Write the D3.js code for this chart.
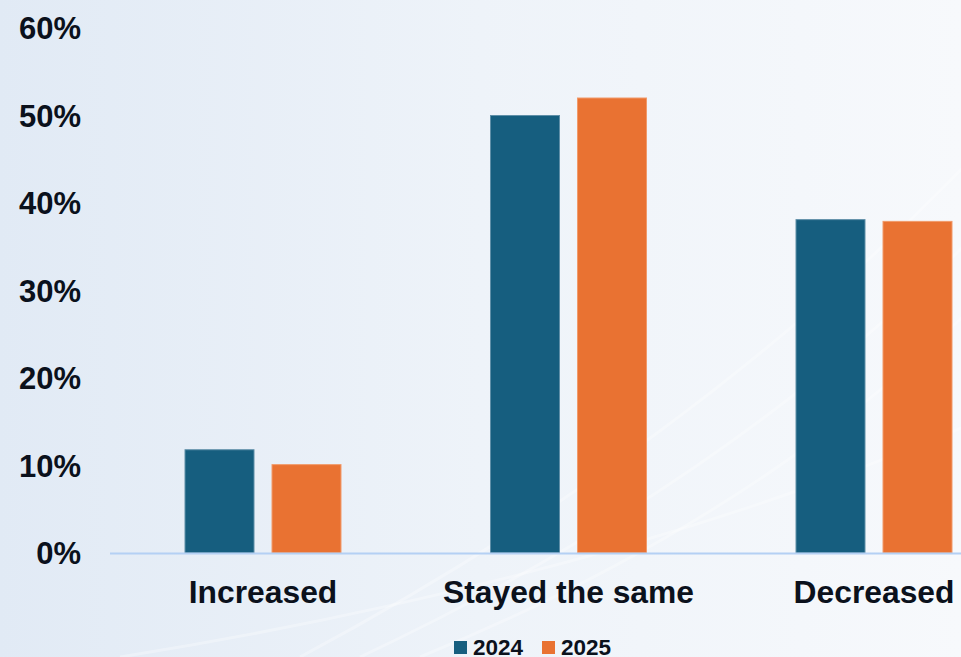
<!DOCTYPE html>
<html><head><meta charset="utf-8">
<script src="https://cdn.jsdelivr.net/npm/d3@7"></script>
<style>html,body{margin:0;padding:0;overflow:hidden;background:#eef3f9}</style>
</head><body><svg id="c" width="961" height="657"></svg>
<script>
const categories = ["Increased", "Stayed the same", "Decreased"];
const seriesNames = ["2024", "2025"];
const values2024 = [11.8, 50.0, 38.1];
const values2025 = [10.1, 52.0, 37.9];
const yTicks = [0, 10, 20, 30, 40, 50, 60];
const colors = ["#165e7f", "#e97232"];

const svg = d3.select("#c");
const W = 961, H = 657;
const defs = svg.append("defs");
const g = defs.append("linearGradient").attr("id","bg").attr("x1","0").attr("x2","1").attr("y1","0").attr("y2","0");
g.append("stop").attr("offset","0").attr("stop-color","#e1eaf5");
g.append("stop").attr("offset","0.5").attr("stop-color","#eef3f9");
g.append("stop").attr("offset","1").attr("stop-color","#f7f9fc");
svg.append("rect").attr("width",W).attr("height",H).attr("fill","url(#bg)");
// faint decorative swooshes
const sw = svg.append("g").attr("fill","none").attr("stroke","#ffffff").attr("stroke-opacity",0.3);
[[300,657,980,150],[360,657,980,230],[420,657,980,300],[120,657,980,420]].forEach(([x0,y0,x1,y1],i)=>{
  sw.append("path").attr("stroke-width",3).attr("d",`M${x0},${y0} Q${(x0+x1)/2+60},${(y0+y1)/2+40} ${x1},${y1}`);
});

const x0 = d3.scaleBand().domain(categories).range([110.25, 1026.75]).paddingInner(0).paddingOuter(0);
const groupW = 156;
const x1 = d3.scaleBand().domain(seriesNames).range([0, groupW]).paddingInner(18/87).paddingOuter(0);
const y = d3.scaleLinear().domain([0, 60]).range([553, 28]);

// axis labels
const yAxis = d3.axisLeft(y).tickValues(yTicks).tickFormat(d => d + "%").tickSize(0).tickPadding(0);
const ya = svg.append("g").attr("transform","translate(81,0)").call(yAxis);
ya.select(".domain").remove();
ya.selectAll("text").attr("font-family","'Liberation Sans', Arial, sans-serif").attr("font-weight","bold")
  .attr("font-size","31px").attr("fill","#0b111c").attr("dy","0.35em");

// bars
const data = categories.map((c,i)=>({cat:c, vals:[values2024[i], values2025[i]]}));
const grp = svg.append("g").selectAll("g").data(data).join("g")
  .attr("transform", d => `translate(${x0(d.cat) + x0.bandwidth()/2 - groupW/2},0)`);
grp.selectAll("rect").data(d => d.vals.map((v,j)=>({s:seriesNames[j], v, j}))).join("rect")
  .attr("x", d => x1(d.s)).attr("width", x1.bandwidth())
  .attr("y", d => y(d.v)).attr("height", d => y(0) - y(d.v))
  .attr("fill", d => colors[d.j])
  .attr("stroke", d => d.j===0 ? "#5f8fa8" : "#f19a6a").attr("stroke-width",1);

// x axis line
svg.append("line").attr("x1",110).attr("x2",W).attr("y1",553.5).attr("y2",553.5)
  .attr("stroke","#b4d0f4").attr("stroke-width",2);

// x labels
const xAxis = d3.axisBottom(x0).tickSize(0).tickPadding(0);
const xa = svg.append("g").attr("transform","translate(0,592)").call(xAxis);
xa.select(".domain").remove();
xa.selectAll("text").attr("font-family","'Liberation Sans', Arial, sans-serif").attr("font-weight","bold")
  .attr("font-size","31.8px").attr("fill","#0b111c").attr("dy","0.35em");

// legend
const leg = svg.append("g").attr("font-family","'Liberation Sans', Arial, sans-serif");
const legX = [454, 542];
seriesNames.forEach((s,i)=>{
  leg.append("rect").attr("x",legX[i]).attr("y",641).attr("width",13).attr("height",13).attr("fill",colors[i]);
  leg.append("text").attr("x",legX[i]+19).attr("y",655).attr("font-size","22.5px").attr("font-weight","bold")
    .attr("fill","#0b111c").text(s);
});
</script></body></html>
